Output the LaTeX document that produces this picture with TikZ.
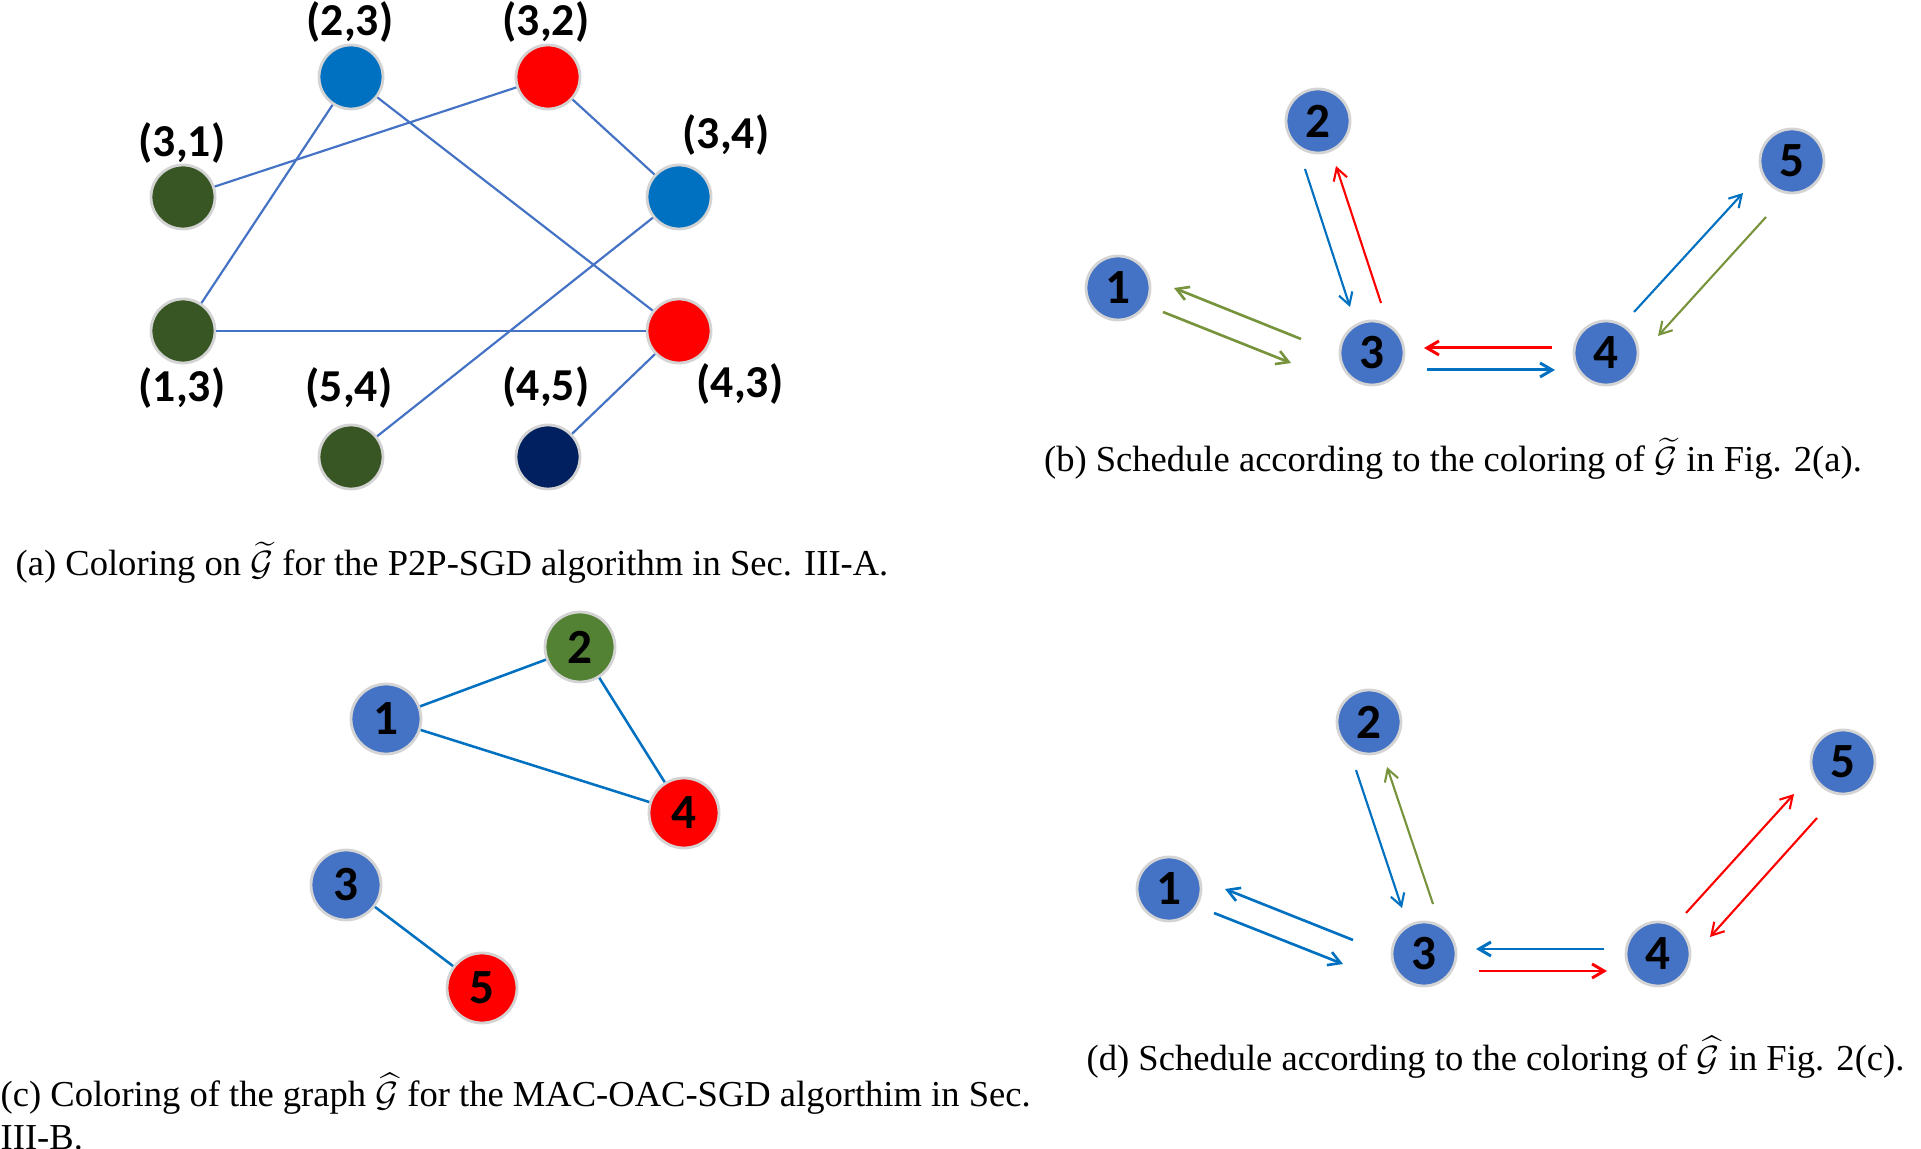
\documentclass[tikz,border=0pt]{standalone}
\usepackage{amsmath}
\usepackage{fontspec}
\setmainfont{Liberation Serif}
\newfontfamily\lblfont{Carlito}
\usepackage{tikz}
\usetikzlibrary{arrows.meta,calc}

\definecolor{cblue}{HTML}{0070C0}
\definecolor{cred}{HTML}{FF0000}
\definecolor{cgreen}{HTML}{77933C}
\definecolor{cdkgreen}{HTML}{375623}
\definecolor{cnavy}{HTML}{002060}
\definecolor{cnode}{HTML}{4472C4}
\definecolor{cmid}{HTML}{548235}
\definecolor{cring}{HTML}{D4D4D4}

\begin{document}
\begin{tikzpicture}[
  x=0.1mm, y=-0.1mm,
  vtx/.style={circle, draw=cring, line width=0.8pt, minimum size=6.4mm, inner sep=0pt},
  num/.style={vtx, fill=cnode, font=\lblfont\bfseries\fontsize{14}{14}\selectfont},
  bignum/.style={num, minimum size=7mm},
  lbl/.style={font=\lblfont\bfseries\fontsize{13}{13}\selectfont, inner sep=0pt},
  pedge/.style={draw=cnode, line width=0.62pt},
  clink/.style={draw=cblue, line width=0.72pt},
  arr/.style={-{Straight Barb[length=1.2mm,width=1.4mm]}, line width=0.6pt},
  medarr/.style={arr, line width=0.75pt},
  thkarr/.style={arr, line width=0.85pt},
  captxt/.style={font=\fontsize{10.4}{12}\selectfont, inner sep=0pt},
]
\useasboundingbox (0,0) rectangle (1921,1149);

% (a) coloring on the pair graph
\node[vtx, fill=cblue]    (p23) at (351,77)  {};
\node[vtx, fill=cred]     (p32) at (548,77)  {};
\node[vtx, fill=cdkgreen] (p31) at (183,197) {};
\node[vtx, fill=cblue]    (p34) at (679,197) {};
\node[vtx, fill=cdkgreen] (p13) at (183,331) {};
\node[vtx, fill=cred]     (p43) at (679,331) {};
\node[vtx, fill=cdkgreen] (p54) at (351,457) {};
\node[vtx, fill=cnavy]    (p45) at (548,457) {};

\node[lbl] (l23) at (350,22)  {(2,3)};
\node[lbl] (l32) at (546,22)  {(3,2)};
\node[lbl] (l31) at (182,143) {(3,1)};
\node[lbl] (l34) at (726,135) {(3,4)};
\node[lbl] (l13) at (182,388) {(1,3)};
\node[lbl] (l43) at (740,384) {(4,3)};
\node[lbl] (l54) at (349,388) {(5,4)};
\node[lbl] (l45) at (546,387) {(4,5)};

\draw[pedge] (p23) -- (p13);
\draw[pedge] (p23) -- (p43);
\draw[pedge] (p32) -- (p31);
\draw[pedge] (p32) -- (p34);
\draw[pedge] (p34) -- (p54);
\draw[pedge] (p13) -- (p43);
\draw[pedge] (p43) -- (p45);

\node[captxt, anchor=base west] (capa) at (15,576)
  {(a) Coloring on $\widetilde{\mathcal{G}}$ for the P2P-SGD algorithm in Sec. III-A.};

% (b) schedule from the coloring in (a)
\node[num] (b1) at (1118,288) {1};
\node[num] (b2) at (1318,121) {2};
\node[num] (b3) at (1372,353) {3};
\node[num] (b4) at (1606,353) {4};
\node[num] (b5) at (1792,161) {5};

\draw[arr, cblue]     ($(b2)+(-13,48)$) -- ($(b3)+(-22,-46)$);
\draw[arr, cred]      ($(b3)+(9,-50)$)  -- ($(b2)+(18,45)$);
\draw[medarr, cgreen] ($(b3)+(-71,-14)$) -- ($(b1)+(56,0)$);
\draw[medarr, cgreen] ($(b1)+(45,24)$)  -- ($(b3)+(-81,10)$);
\draw[thkarr, cred]   ($(b4)+(-54,-5)$) -- ($(b3)+(52,-5)$);
\draw[thkarr, cblue]  ($(b3)+(55,17)$)  -- ($(b4)+(-51,17)$);
\draw[arr, cblue]     ($(b4)+(28,-41)$) -- ($(b5)+(-49,32)$);
\draw[arr, cgreen]    ($(b5)+(-26,56)$) -- ($(b4)+(52,-17)$);

\node[captxt, anchor=base] (capb) at (1453,472)
  {(b) Schedule according to the coloring of $\widetilde{\mathcal{G}}$ in Fig. 2(a).};

% (c) coloring of the node graph
\node[bignum] (c1) at (386,719) {1};
\node[bignum, fill=cmid] (c2) at (580,647) {2};
\node[bignum, fill=cred] (c4) at (684,813) {4};
\node[bignum] (c3) at (346,885) {3};
\node[bignum, fill=cred] (c5) at (482,988) {5};

\draw[clink] (c1) -- (c2);
\draw[clink] (c2) -- (c4);
\draw[clink] (c1) -- (c4);
\draw[clink] (c3) -- (c5);

\node[captxt, anchor=north west, align=left] (capc) at (0,1072)
  {(c) Coloring of the graph $\widehat{\mathcal{G}}$ for the MAC-OAC-SGD algorthim in Sec.\\III-B.};

% (d) schedule from the coloring in (c)
\node[num] (d1) at (1169,889) {1};
\node[num] (d2) at (1369,722) {2};
\node[num] (d3) at (1424,954) {3};
\node[num] (d4) at (1658,954) {4};
\node[num] (d5) at (1843,762) {5};

\draw[arr, cblue]    ($(d2)+(-13,48)$) -- ($(d3)+(-22,-46)$);
\draw[arr, cgreen]   ($(d3)+(9,-50)$)  -- ($(d2)+(18,45)$);
\draw[medarr, cblue] ($(d3)+(-71,-14)$) -- ($(d1)+(56,0)$);
\draw[medarr, cblue] ($(d1)+(45,24)$)  -- ($(d3)+(-81,10)$);
\draw[thkarr, cblue] ($(d4)+(-54,-5)$) -- ($(d3)+(52,-5)$);
\draw[thkarr, cred]  ($(d3)+(55,17)$)  -- ($(d4)+(-51,17)$);
\draw[arr, cred]     ($(d4)+(28,-41)$) -- ($(d5)+(-49,32)$);
\draw[arr, cred]     ($(d5)+(-26,56)$) -- ($(d4)+(52,-17)$);

\node[captxt, anchor=base west] (capd) at (1086,1070)
  {(d) Schedule according to the coloring of $\widehat{\mathcal{G}}$ in Fig. 2(c).};

\end{tikzpicture}
\end{document}
